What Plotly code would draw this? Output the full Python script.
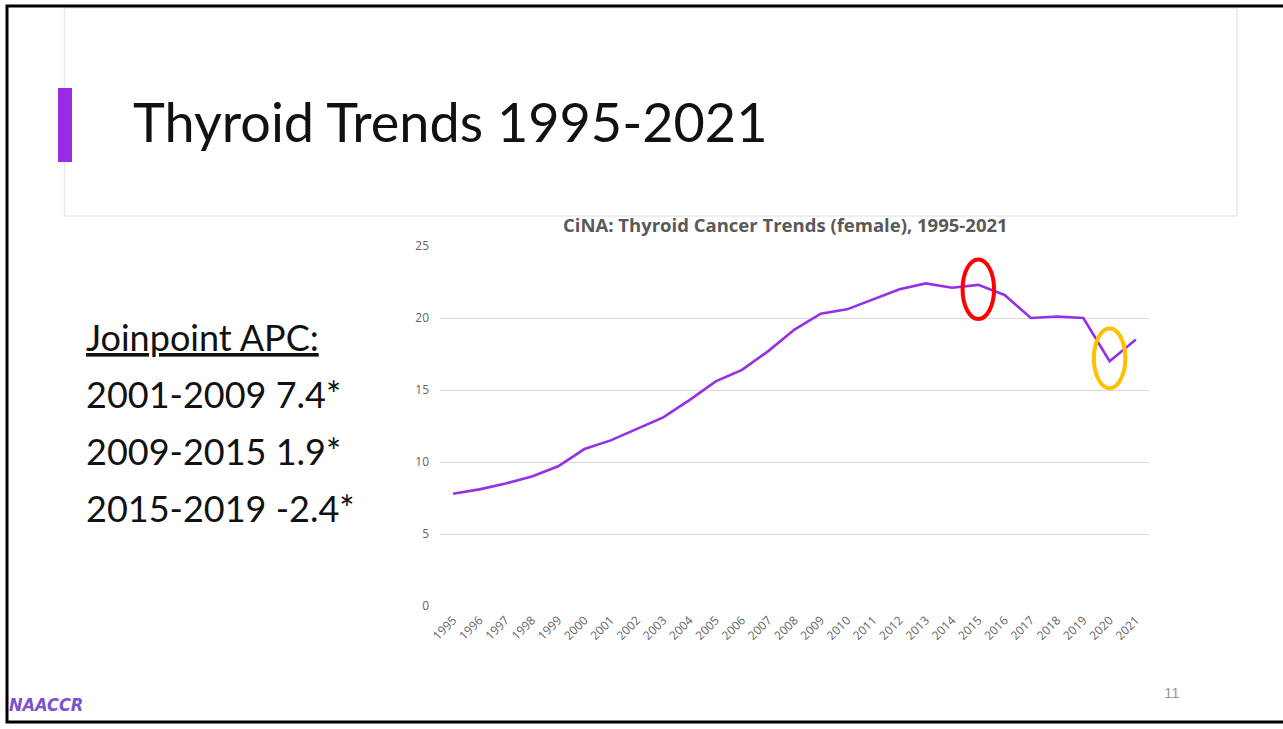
import plotly.graph_objects as go

# ---- data ----
years = [str(y) for y in range(1995, 2022)]
rates = [7.8, 8.1, 8.5, 9.0, 9.7, 10.9, 11.5, 12.3, 13.1, 14.3, 15.6, 16.4, 17.7,
         19.2, 20.3, 20.6, 21.3, 22.0, 22.4, 22.1, 22.3, 21.6, 20.0, 20.1, 20.0,
         17.0, 18.5]
y_ticks = [0, 5, 10, 15, 20, 25]
apc_lines = ["2001-2009 7.4*", "2009-2015 1.9*", "2015-2019 -2.4*"]
highlight_years = ["2015", "2020"]
highlight_colors = ["#FF0000", "#FFC000"]
highlight_offsets = [-0.3, 0.2]

W, H = 1283, 729
PL, PR, PT, PB = 440, 1149, 246, 606  # plot area in pixels


def px(x):
    return (x - PL) / (PR - PL)


def py(y):
    return (PB - y) / (PB - PT)


fig = go.Figure()
fig.add_trace(go.Scatter(
    x=years, y=rates, mode="lines",
    line=dict(color="#9430E6", width=2.6),
    hoverinfo="x+y", showlegend=False,
))

shapes = []
# slide border
shapes.append(dict(type="rect", xref="paper", yref="paper",
                   x0=px(7), x1=px(1295), y0=py(722), y1=py(6),
                   line=dict(color="#000000", width=3), layer="above"))
# title box
shapes.append(dict(type="rect", xref="paper", yref="paper",
                   x0=px(64.5), x1=px(1237), y0=py(216), y1=py(8),
                   line=dict(color="#E6EAEE", width=1.5), layer="below"))
# purple accent bar
shapes.append(dict(type="rect", xref="paper", yref="paper",
                   x0=px(58), x1=px(72), y0=py(162), y1=py(88),
                   fillcolor="#9B2CE6", line=dict(width=0), layer="above"))
# highlight ellipses around data points
for yr, col, off in zip(highlight_years, highlight_colors, highlight_offsets):
    i = years.index(yr)
    cy = rates[i] + off
    shapes.append(dict(type="circle", xref="x", yref="y",
                       x0=i - 0.6, x1=i + 0.6, y0=cy - 2.07, y1=cy + 2.07,
                       line=dict(color=col, width=4), layer="above"))

annotations = []
annotations.append(dict(text="Thyroid Trends 1995-2021", xref="paper", yref="paper",
                        x=px(131), y=py(122), xanchor="left", yanchor="middle",
                        showarrow=False,
                        font=dict(family="Lato", size=54, color="#111111", weight=400)))
annotations.append(dict(text="<b>CiNA: Thyroid Cancer Trends (female), 1995-2021</b>",
                        xref="paper", yref="paper", x=px(785), y=py(224),
                        xanchor="center", yanchor="middle", showarrow=False,
                        font=dict(family="Open Sans", size=18.5, color="#595959")))
annotations.append(dict(text="<u>Joinpoint APC:</u>", xref="paper", yref="paper",
                        x=px(84), y=py(337), xanchor="left", yanchor="middle",
                        showarrow=False,
                        font=dict(family="Lato", size=36, color="#111111", weight=400)))
for k, t in enumerate(apc_lines):
    annotations.append(dict(text=t, xref="paper", yref="paper",
                            x=px(84), y=py(394 + 57 * k), xanchor="left", yanchor="middle",
                            showarrow=False,
                            font=dict(family="Lato", size=36, color="#111111", weight=400)))
annotations.append(dict(text="11", xref="paper", yref="paper", x=px(1172), y=py(692),
                        xanchor="center", yanchor="middle", showarrow=False,
                        font=dict(family="Liberation Sans", size=15, color="#9A9A9A")))
annotations.append(dict(text="<i><b>NAACCR</b></i>", xref="paper", yref="paper", x=px(7), y=py(704),
                        xanchor="left", yanchor="middle", showarrow=False,
                        font=dict(family="Liberation Sans Narrow, DejaVu Sans Condensed, sans-serif",
                                  size=18, color="#7B52D0")))

fig.update_layout(
    width=W, height=H,
    margin=dict(l=PL, r=W - PR, t=PT, b=H - PB, pad=0),
    paper_bgcolor="white", plot_bgcolor="white",
    shapes=shapes, annotations=annotations,
    xaxis=dict(type="category", range=[-0.5, len(years) - 0.5], tickangle=-45,
               showgrid=False, zeroline=False, showline=False, ticks="",
               tickfont=dict(family="Open Sans", size=12, color="#666666"),
               automargin=False, ticklabelstandoff=4),
    yaxis=dict(range=[0, 25], tickvals=y_ticks, showgrid=True, gridcolor="#DADADA",
               gridwidth=1, zeroline=False, showline=False, ticks="",
               tickfont=dict(family="Open Sans", size=12, color="#666666"),
               automargin=False, ticklabelstandoff=10),
    font=dict(family="Lato"),
)

fig.write_html("out.html")
